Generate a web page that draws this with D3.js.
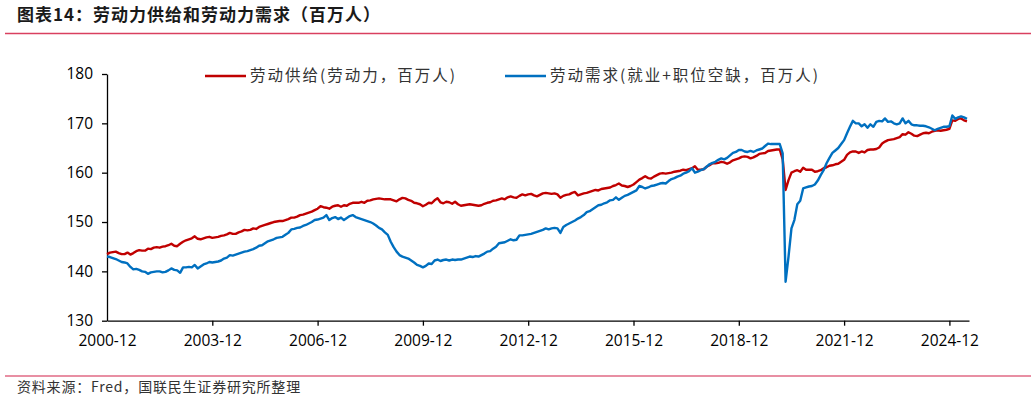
<!DOCTYPE html>
<html>
<head>
<meta charset="utf-8">
<script src="https://cdn.jsdelivr.net/npm/d3@7"></script>
<style>
  body { margin: 0; background: #fff; }
  svg { display: block; }
</style>
</head>
<body>
<svg id="chart" width="1031" height="399"></svg>
<script>
// monthly series, first point is 2000-12
var startLabel = "2000-12"
var tickLabels = ["2000-12", "2003-12", "2006-12", "2009-12", "2012-12", "2015-12", "2018-12", "2021-12", "2024-12"]
var yTicks = [130, 140, 150, 160, 170, 180]
var seriesNames = ["劳动供给(劳动力，百万人)", "劳动需求(就业+职位空缺，百万人)"]

var supply = [
  143.5,
  143.8, 143.9, 144.0, 143.7, 143.5, 143.5, 143.8, 143.4, 143.7, 144.1, 144.3, 144.2, // 2001
  144.2, 144.6, 144.5, 144.8, 144.9, 144.8, 145.0, 145.1, 145.3, 145.6, 145.2, 145.1, // 2002
  145.6, 146.0, 146.3, 146.5, 146.7, 147.1, 146.6, 146.5, 146.7, 146.9, 147.0, 146.8, // 2003
  146.9, 147.0, 147.2, 147.3, 147.5, 147.8, 147.6, 147.6, 147.9, 148.1, 148.4, 148.3, // 2004
  148.4, 148.7, 148.6, 149.0, 149.2, 149.4, 149.6, 149.8, 150.0, 150.1, 150.2, 150.2, // 2005
  150.4, 150.6, 150.9, 150.9, 151.1, 151.4, 151.5, 151.7, 151.9, 152.1, 152.4, 152.7, // 2006
  153.2, 153.0, 152.9, 152.7, 153.1, 153.3, 153.4, 153.1, 153.4, 153.3, 153.7, 153.9, // 2007
  153.9, 153.9, 154.1, 153.9, 154.3, 154.4, 154.6, 154.7, 154.8, 154.7, 154.6, 154.6, // 2008
  154.6, 154.4, 154.2, 154.6, 154.9, 154.8, 154.5, 154.3, 153.9, 153.8, 153.6, 153.2, // 2009
  153.5, 153.9, 153.8, 154.4, 154.8, 154.0, 153.8, 154.1, 154.0, 153.7, 154.1, 153.6, // 2010
  153.3, 153.4, 153.5, 153.6, 153.5, 153.4, 153.3, 153.4, 153.7, 153.9, 154.0, 154.3, // 2011
  154.4, 154.6, 154.8, 154.6, 155.0, 155.2, 155.0, 154.9, 155.3, 155.6, 155.4, 155.6, // 2012
  155.7, 155.4, 155.2, 155.5, 155.8, 155.9, 155.8, 155.7, 155.8, 155.6, 154.9, 155.3, // 2013
  155.5, 155.6, 155.9, 156.1, 155.4, 155.6, 155.8, 155.9, 156.1, 156.3, 156.5, 156.4, // 2014
  156.7, 156.8, 156.9, 157.0, 157.3, 157.5, 157.8, 157.4, 157.3, 157.1, 157.3, 157.6, // 2015
  158.1, 158.6, 158.9, 159.3, 158.9, 158.8, 159.2, 159.5, 159.8, 159.9, 159.8, 159.9, // 2016
  160.0, 160.2, 160.3, 160.4, 160.6, 160.5, 160.7, 160.9, 161.3, 160.6, 160.6, 160.7, // 2017
  161.2, 161.5, 161.9, 161.9, 162.0, 162.2, 162.1, 161.8, 162.1, 162.5, 162.7, 162.9, // 2018
  163.2, 163.3, 163.2, 162.9, 163.1, 163.4, 163.8, 163.9, 164.0, 164.4, 164.5, 164.6, // 2019
  164.7, 164.7, 162.7, 156.5, 158.5, 160.0, 160.3, 160.5, 160.2, 161.0, 160.6, 160.6, // 2020
  160.6, 160.2, 160.3, 160.5, 160.9, 161.1, 161.4, 161.5, 161.7, 161.8, 162.2, 162.6, // 2021
  163.6, 164.1, 164.3, 164.3, 164.0, 164.3, 164.1, 164.6, 164.7, 164.7, 164.8, 165.1, // 2022
  165.9, 166.3, 166.6, 166.7, 166.8, 167.0, 167.2, 167.8, 167.7, 168.2, 167.9, 167.5, // 2023
  167.4, 167.7, 168.0, 168.1, 168.0, 168.3, 168.5, 168.6, 168.5, 168.6, 168.7, 168.9, // 2024
  170.6, 170.5, 170.9, 171.0, 170.6, 170.4 // 2025
]

var demand = [
  143.0,
  142.9, 142.7, 142.5, 142.2, 141.9, 141.8, 141.6, 140.9, 140.4, 140.5, 140.3, 140.0, // 2001
  139.9, 139.5, 139.8, 139.9, 140.0, 140.0, 139.8, 139.9, 140.2, 140.6, 140.3, 140.2, // 2002
  139.7, 140.8, 140.8, 140.9, 140.8, 141.3, 140.6, 141.0, 141.4, 141.6, 141.9, 141.8, // 2003
  141.9, 142.0, 142.2, 142.6, 142.8, 143.3, 143.2, 143.4, 143.6, 143.8, 144.0, 144.1, // 2004
  144.3, 144.5, 144.8, 145.2, 145.3, 145.7, 146.1, 146.3, 146.5, 146.8, 146.9, 147.0, // 2005
  147.4, 147.8, 148.5, 148.6, 148.8, 148.9, 149.2, 149.4, 149.7, 150.0, 150.4, 150.5, // 2006
  150.7, 150.9, 151.4, 150.4, 150.8, 151.0, 150.6, 150.9, 150.4, 150.8, 151.2, 151.4, // 2007
  151.0, 150.8, 150.6, 150.4, 150.2, 150.0, 149.7, 149.3, 148.8, 148.5, 147.9, 147.4, // 2008
  146.0, 144.9, 144.0, 143.3, 143.0, 142.8, 142.6, 142.2, 141.8, 141.3, 141.1, 140.8, // 2009
  141.1, 141.6, 141.5, 142.2, 142.4, 142.1, 142.3, 142.4, 142.2, 142.4, 142.3, 142.4, // 2010
  142.4, 142.6, 142.8, 143.0, 142.9, 143.1, 143.0, 143.3, 143.6, 144.0, 144.1, 144.6, // 2011
  145.0, 145.7, 145.8, 145.9, 146.2, 146.5, 146.3, 146.4, 147.3, 147.3, 147.4, 147.5, // 2012
  147.6, 147.8, 148.0, 148.2, 148.4, 148.7, 148.5, 148.7, 148.8, 148.7, 147.8, 149.0, // 2013
  149.4, 149.7, 150.0, 150.3, 150.7, 151.0, 151.4, 152.0, 152.2, 152.6, 153.0, 153.4, // 2014
  153.5, 153.8, 154.0, 154.4, 154.5, 155.0, 154.5, 154.9, 155.3, 155.5, 155.8, 156.1, // 2015
  156.4, 157.3, 157.1, 156.8, 157.0, 157.3, 157.4, 157.6, 157.8, 157.9, 157.8, 158.3, // 2016
  158.7, 158.9, 159.2, 159.4, 159.8, 160.0, 160.3, 160.9, 160.0, 160.2, 160.5, 160.7, // 2017
  161.2, 161.7, 162.0, 162.2, 162.6, 162.9, 162.7, 163.0, 163.5, 164.0, 164.2, 164.6, // 2018
  164.6, 164.3, 164.2, 164.4, 164.2, 164.5, 164.7, 164.9, 165.4, 165.9, 165.8, 165.8, // 2019
  165.8, 165.8, 163.9, 137.9, 143.0, 148.7, 150.4, 153.6, 154.3, 156.8, 157.0, 157.2, // 2020
  157.3, 157.6, 158.4, 159.5, 160.5, 161.9, 163.0, 164.0, 164.5, 165.0, 165.8, 166.6, // 2021
  168.0, 169.3, 170.5, 170.0, 170.0, 169.4, 169.8, 169.1, 169.8, 169.3, 170.3, 170.5, // 2022
  170.4, 171.0, 170.3, 170.4, 170.0, 169.8, 170.0, 171.0, 170.0, 170.5, 169.8, 169.6, // 2023
  169.6, 169.5, 169.5, 169.4, 169.2, 168.9, 168.6, 168.9, 169.1, 169.3, 169.3, 169.4, // 2024
  171.6, 170.9, 171.2, 171.4, 171.2, 170.9 // 2025
]

var colors = ["#C00000", "#0070C0"]
var svg = d3.select("#chart")

// header / footer
svg.append("text")
  .attr("x", 17).attr("y", 21)
  .attr("font-family", "Noto Sans CJK SC")
  .attr("font-size", 17)
  .attr("font-weight", "bold")
  .attr("letter-spacing", 1.0)
  .attr("fill", "#1a1a1a")
  .text("图表14：劳动力供给和劳动力需求（百万人）")

svg.append("line")
  .attr("x1", 5).attr("x2", 1031).attr("y1", 33.5).attr("y2", 33.5)
  .attr("stroke", "#D9405F").attr("stroke-width", 1.3)

svg.append("line")
  .attr("x1", 5).attr("x2", 1031).attr("y1", 376).attr("y2", 376)
  .attr("stroke", "#E06A84").attr("stroke-width", 1.5)

svg.append("text")
  .attr("x", 17).attr("y", 392)
  .attr("font-family", "Noto Sans CJK SC")
  .attr("font-size", 14)
  .attr("letter-spacing", 0.8)
  .attr("fill", "#333")
  .text("资料来源：Fred，国联民生证券研究所整理")

// scales
var x_scale = d3.scaleLinear()
  .domain([0, 294.7])
  .range([107, 969])

var y_scale = d3.scaleLinear()
  .domain([130, 180])
  .range([320.7, 74])

var g = svg.append("g")

g.append("g")
  .attr("class", "x_axis_g")
  .attr("transform", `translate(0,${y_scale(130)})`)
  .call(d3.axisBottom(x_scale)
    .tickValues(tickLabels.map((d, k) => k * 36))
    .tickFormat((d, k) => tickLabels[k])
    .tickSizeInner(5).tickSizeOuter(0).tickPadding(6))

g.append("g")
  .attr("class", "y_axis_g")
  .attr("transform", `translate(${x_scale(0)},0)`)
  .call(d3.axisLeft(y_scale)
    .tickValues(yTicks)
    .tickSizeInner(5).tickSizeOuter(0).tickPadding(9))

g.selectAll(".domain, .tick line")
  .attr("stroke", "#000")
  .attr("stroke-width", 1.3)
g.selectAll(".tick text")
  .attr("font-family", "Open Sans")
  .attr("font-size", 15.5)
  .attr("fill", "#000")
g.select(".x_axis_g").selectAll(".tick text").attr("dy", "0.9em")
g.select(".x_axis_g").selectAll(".tick").filter((d, k) => k == 0).select("line").remove()

// lines
var line = d3.line()
  .x((d, i) => x_scale(i))
  .y(d => y_scale(d))

var series = [supply, demand]
g.selectAll(".series")
  .data(series)
  .join("path")
  .attr("class", "series")
  .attr("d", d => line(d))
  .attr("fill", "none")
  .attr("stroke", (d, i) => colors[i])
  .attr("stroke-width", 2.4)
  .attr("stroke-linejoin", "round")

// legend
var legendX = [205, 505]
var lg = svg.selectAll(".legend")
  .data(seriesNames)
  .join("g")
  .attr("class", "legend")
  .attr("transform", (d, i) => `translate(${legendX[i]},76)`)

lg.append("line")
  .attr("x1", 0).attr("x2", 41)
  .attr("stroke", (d, i) => colors[i])
  .attr("stroke-width", 2.4)

lg.append("text")
  .attr("x", 45).attr("y", 0)
  .attr("dy", "0.35em")
  .attr("font-family", "Noto Sans CJK SC")
  .attr("font-size", 15.5)
  .attr("letter-spacing", 2.0)
  .attr("fill", "#333")
  .text(d => d)
</script>
</body>
</html>
